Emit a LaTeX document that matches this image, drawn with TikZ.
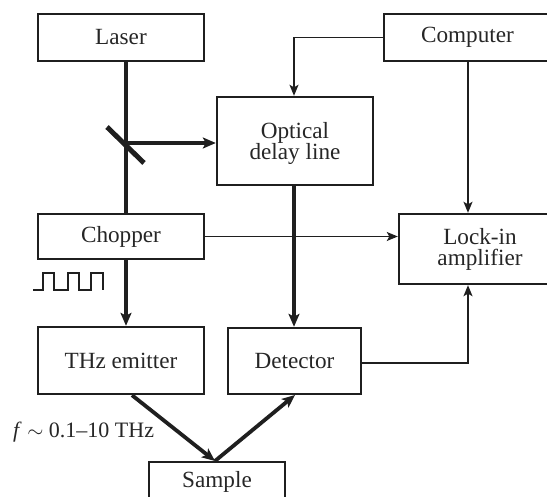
\documentclass[tikz,border=0pt]{standalone}
\usepackage{fontspec}
\setmainfont{Liberation Serif}
\usetikzlibrary{arrows.meta,calc}
\begin{document}
\begin{tikzpicture}[x=1pt,y=-1pt,
  font=\fontsize{23.2}{24}\selectfont,
  blk/.style={draw, line width=2.4pt, inner sep=0pt, align=center, text=black!85},
  beam/.style={line width=3.8pt, -{Stealth[length=13pt,width=11pt,inset=3pt]}},
  sig/.style={line width=1.4pt, -{Stealth[length=11pt,width=9pt,inset=2.5pt]}},
  draw=black!88]
\useasboundingbox (0,0) rectangle (547,497);
\clip (0,0) rectangle (547,497);

% blocks
\node[blk, minimum width=166, minimum height=47] (laser) at (121,37.5) {Laser};
\node[blk, minimum width=167, minimum height=47] (comp) at (467.5,37.5) {Computer};
\node[blk, minimum width=156, minimum height=88, text depth=0pt] (odl) at (295,141) {Optical\\[-3pt]delay line};
\node[blk, minimum width=166, minimum height=45] (chop) at (121,236.5) {Chopper};
\node[blk, minimum width=162, minimum height=70] (lia) at (480,249) {Lock-in\\[-3pt]amplifier};
\node[blk, minimum width=166, minimum height=67] (thz) at (121,360.5) {THz emitter};
\node[blk, minimum width=133, minimum height=66] (det) at (294.5,361) {Detector};
\node[blk, minimum width=136, minimum height=40] (smp) at (217,482) {Sample};

% optical path
\coordinate (bx) at (126,0);
\coordinate (split) at (126,143);
\coordinate (refl) at ($(thz.south)+(11,0)$);
\coordinate (hit) at (215,461);
\coordinate (recv) at (295,395);
\draw[line width=3.8pt] (laser.south -| bx) -- (chop.north -| bx);
\draw[line width=5pt] (107,127) -- (144,163);
\draw[beam] (split) -- (split -| odl.west);
\draw[beam] (chop.south -| bx) -- (thz.north -| bx);
\draw[beam] (odl.south -| 294,0) -- (det.north -| 294,0);
\draw[beam] (refl) -- (hit);
\draw[beam] (hit) -- (recv);

% electrical signals
\coordinate (cx) at (294,0);
\coordinate (lx) at (468,0);
\draw[sig] (comp.west) -- (comp.west -| cx) -- (odl.north -| cx);
\draw[sig] (comp.south -| lx) -- (lia.north -| lx);
\draw[sig] (chop.east) -- (chop.east -| lia.west);
\draw[sig] (det.east |- 0,363) -- (468,363) -- (lia.south -| lx);

% chopping waveform
\draw[line width=1.3pt] (33,290) -- (43,290) -- (43,273) -- (54,273) -- (54,290)
  -- (68,290) -- (68,273) -- (79,273) -- (79,290) -- (91,290) -- (91,273)
  -- (103,273) -- (103,290);

% bandwidth label
\node[anchor=west, inner sep=0pt, text=black!85, font=\fontsize{22}{24}\selectfont] (band) at (13,432) {\textit{f} $\sim$ 0.1–10 THz};
\end{tikzpicture}
\end{document}
